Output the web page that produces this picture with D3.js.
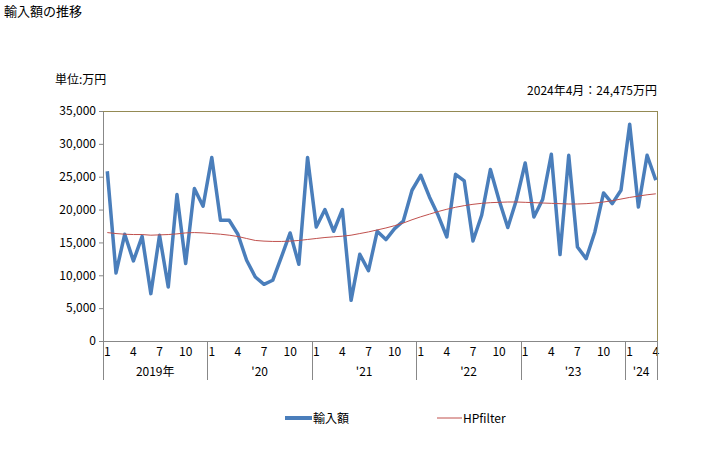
<!DOCTYPE html>
<html><head><meta charset="utf-8">
<script src="https://cdn.jsdelivr.net/npm/d3@7"></script>
<style>
body{margin:0;background:#fff;}
text{font-family:"Noto Sans CJK JP","Noto Sans",sans-serif;fill:#000;}
</style></head>
<body><svg id="c" width="728" height="450"></svg>
<script>
const years = [2019,2020,2021,2022,2023,2024];
const yearLabels = ["2019年","'20","'21","'22","'23","'24"];
const monthTickLabels = ["1","4","7","10"];
const yTicks = [0,5000,10000,15000,20000,25000,30000,35000];
const imports = [
 25830,10350,16240,12180,15930,7210,16090,8220,22280,11780,23190,20500,
 27910,18370,18370,16240,12280,9740,8630,9240,12790,16440,11670,27910,
 17350,20000,16700,20000,6190,13190,10700,16700,15430,17100,18260,22940,
 25220,21920,19130,15830,25370,24350,15220,19130,26090,21410,17260,21500,
 27090,18870,21520,28420,13150,28260,14310,12540,16590,22530,20910,22940,
 32980,20400,28260,24475];
const hpfilter = [
 16500,16350,16250,16200,16200,16100,16150,16200,16300,16450,16500,16450,
 16350,16250,16100,15900,15600,15300,15200,15150,15150,15200,15300,15450,
 15600,15750,15850,15950,16100,16350,16600,16900,17200,17550,17950,18450,
 18900,19300,19700,20050,20350,20600,20800,20950,21050,21100,21150,21150,
 21100,21050,21000,20950,20900,20850,20850,20900,21000,21150,21350,21600,
 21850,22050,22250,22400];
const seriesNames = ["輸入額","HPfilter"];

const months = imports.map((d,i)=>i);
const svg = d3.select("#c");
const L=103,R=657,T=111,B=341;
const x = d3.scalePoint().domain(months).range([107.3,655.8]);
const step = x.step();
const y = d3.scaleLinear().domain([0,35000]).range([B,T]);
const cx = i => x(i);

svg.append("text").attr("x",4).attr("y",16).attr("font-size",13).text("輸入額の推移");
svg.append("text").attr("x",55).attr("y",84).attr("font-size",12).text("単位:万円");
svg.append("text").attr("x",657).attr("y",95).attr("font-size",12).attr("text-anchor","end").text("2024年4月：24,475万円");

// y axis
const ya = svg.append("g").attr("transform",`translate(${L},0)`)
 .call(d3.axisLeft(y).tickValues(yTicks).tickSize(4).tickFormat(d3.format(",")));
ya.select(".domain").remove();
ya.selectAll("line").attr("stroke","#888");
ya.selectAll("text").attr("font-size",12).attr("x",-7);
svg.append("line").attr("x1",L+0.5).attr("x2",L+0.5).attr("y1",T).attr("y2",380).attr("stroke","#888");
// top and right border
svg.append("line").attr("x1",L).attr("x2",R+0.5).attr("y1",T+0.5).attr("y2",T+0.5).attr("stroke","#948A54");
svg.append("line").attr("x1",R+0.5).attr("x2",R+0.5).attr("y1",T).attr("y2",B).attr("stroke","#948A54");
// bottom axis
svg.append("line").attr("x1",L).attr("x2",R+1).attr("y1",B+0.5).attr("y2",B+0.5).attr("stroke","#888");

// month labels
months.forEach(i=>{
  const m = i%12+1;
  if(monthTickLabels.includes(String(m))){
    svg.append("text").attr("x",cx(i)).attr("y",356).attr("font-size",12)
      .attr("text-anchor","middle").text(String(m));
  }
});
// year separators & labels
years.forEach((yr,k)=>{
  const start=k*12, end=Math.min(start+12,months.length);
  const left = k>0 ? x(start)-step/2 : L;
  const right = end<months.length ? x(end)-step/2 : R;
  if(k>0){
    const sx=Math.round(left)+0.5;
    svg.append("line").attr("x1",sx).attr("x2",sx).attr("y1",B).attr("y2",380).attr("stroke","#888");
  }
  svg.append("text").attr("x",(left+right)/2).attr("y",376).attr("font-size",12)
    .attr("text-anchor","middle").text(yearLabels[k]);
});
svg.append("line").attr("x1",R+0.5).attr("x2",R+0.5).attr("y1",B).attr("y2",380).attr("stroke","#888");

const line = d3.line().x((d,i)=>cx(i)).y(d=>y(d));
svg.append("path").datum(imports).attr("d",line).attr("fill","none")
 .attr("stroke","#4A7EBB").attr("stroke-width",3.5).attr("stroke-linejoin","round");
svg.append("path").datum(hpfilter).attr("d",line).attr("fill","none")
 .attr("stroke","#C0504D").attr("stroke-width",1);

// legend
svg.append("line").attr("x1",285).attr("x2",312).attr("y1",418).attr("y2",418).attr("stroke","#4A7EBB").attr("stroke-width",4);
svg.append("text").attr("x",313).attr("y",423).attr("font-size",12).text(seriesNames[0]);
svg.append("line").attr("x1",437).attr("x2",462).attr("y1",418).attr("y2",418).attr("stroke","#C0504D").attr("stroke-width",1);
svg.append("text").attr("x",463).attr("y",423).attr("font-size",12).text(seriesNames[1]);
</script></body></html>
